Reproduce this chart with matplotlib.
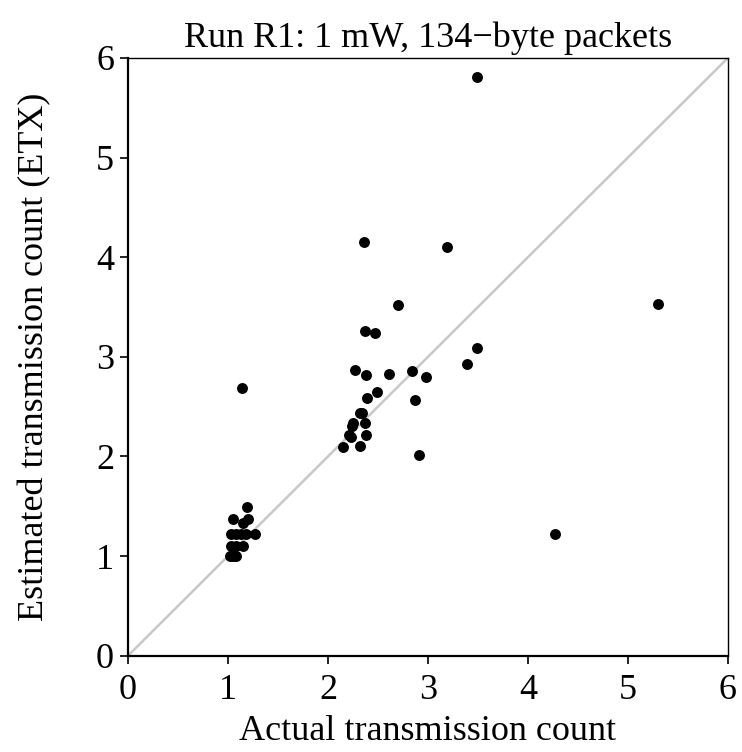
import matplotlib.pyplot as plt
import numpy as np

plt.rcParams["font.family"] = ["Liberation Serif", "DejaVu Serif"]

# actual vs estimated transmission counts
actual = [1.02, 1.05, 1.08, 1.03, 1.08, 1.15, 1.03, 1.08, 1.13, 1.18, 1.27,
          1.05, 1.20, 1.15, 1.19, 1.14,
          2.36, 3.19, 2.70, 2.37, 2.47, 3.49, 3.39, 2.27, 2.38, 2.61, 2.84,
          2.98, 2.49, 2.39, 2.87, 2.32, 2.34, 2.25, 2.37, 2.24, 2.21, 2.23,
          2.38, 2.15, 2.32, 2.91, 3.49, 5.30, 4.27]
estimated = [1.00, 1.00, 1.00, 1.10, 1.10, 1.10, 1.22, 1.22, 1.22, 1.22, 1.22,
             1.37, 1.37, 1.33, 1.49, 2.69,
             4.15, 4.10, 3.52, 3.26, 3.24, 3.09, 2.93, 2.87, 2.82, 2.83, 2.86,
             2.80, 2.65, 2.59, 2.57, 2.44, 2.44, 2.34, 2.34, 2.31, 2.22, 2.20,
             2.22, 2.10, 2.11, 2.01, 5.81, 3.53, 1.22]

fig = plt.figure(figsize=(7.42, 7.52), dpi=100)
ax = fig.add_axes([0.1725, 0.128, 0.8085, 0.795])

ax.plot([0, 6], [0, 6], color="#c8c8c8", lw=1.8, zorder=1)
ax.scatter(actual, estimated, s=62, color="black", zorder=2, linewidths=0)

ax.set_xlim(0, 6)
ax.set_ylim(0, 6)
ax.set_xticks(range(7))
ax.set_yticks(range(7))
ax.spines["left"].set_linewidth(1.6)
ax.spines["bottom"].set_linewidth(1.6)
ax.spines["top"].set_linewidth(1.0)
ax.spines["right"].set_linewidth(1.0)
ax.tick_params(direction="out", length=6, width=1.2, labelsize=26)
ax.tick_params(axis="x", pad=7)
ax.tick_params(axis="y", pad=4)
ax.set_xlabel("Actual transmission count", fontsize=26, labelpad=6)
ax.set_ylabel("Estimated transmission count (ETX)", fontsize=26, labelpad=32)
ax.set_title("Run R1: 1 mW, 134\u2212byte packets", fontsize=26, pad=8)

fig.savefig("out.png", dpi=100)
